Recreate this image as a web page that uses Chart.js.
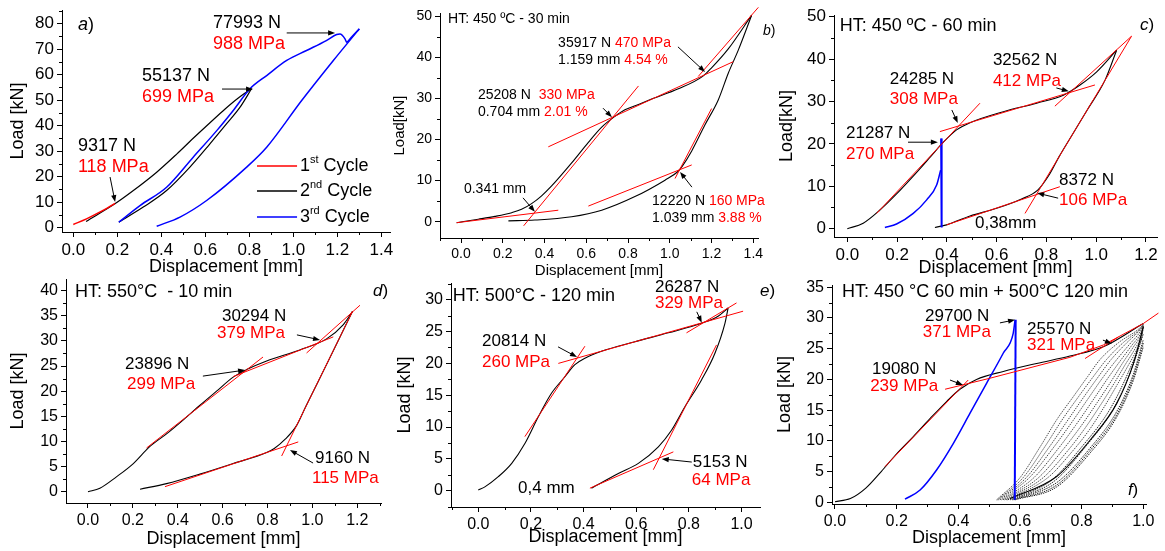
<!DOCTYPE html>
<html lang="en">
<head>
<meta charset="UTF-8">
<title>Load - displacement curves</title>
<script src="https://cdn.jsdelivr.net/npm/chart.js"></script>
<style>
  body { margin: 0; background: #fff; }
  #wrap { position: relative; width: 1165px; height: 551px; }
  #wrap canvas { position: absolute; left: 0; top: 0; }
</style>
</head>
<body>
<div id="wrap">
  <canvas id="pa" width="1165" height="551"></canvas>
  <canvas id="pb" width="1165" height="551"></canvas>
  <canvas id="pc" width="1165" height="551"></canvas>
  <canvas id="pd" width="1165" height="551"></canvas>
  <canvas id="pe" width="1165" height="551"></canvas>
  <canvas id="pf" width="1165" height="551"></canvas>
</div>
<script>
// ---- a) three cycles, [displacement mm, load kN] ----
const aCycle1       = [[0.00,1.2],[0.06,3.4],[0.12,6.0],[0.19,9.5]];
const aCycle2Load   = [[0.058,2.4],[0.189,9.3],[0.273,14.5],[0.379,21.7],[0.47,28.8],[0.545,35.0],[0.62,41.0],[0.69,46.5],[0.75,50.8],[0.81,54.4]];
const aCycle2Unload = [[0.81,54.4],[0.758,47.2],[0.697,40.7],[0.621,32.8],[0.53,23.7],[0.424,14.5],[0.318,8.0],[0.207,2.1]];
const aCycle3Load   = [[0.207,2.1],[0.303,8.6],[0.424,15.8],[0.545,27.6],[0.652,38.0],[0.727,45.9],[0.803,54.4],[0.879,59.6],[0.97,65.5],[1.06,69.4],[1.15,73.3],[1.197,75.7],[1.212,75.9],[1.235,74.0],[1.242,72.7],[1.265,74.7],[1.30,77.9]];
const aCycle3Unload = [[1.30,77.9],[1.182,65.5],[1.038,49.8],[0.879,31.5],[0.788,23.7],[0.606,10.6],[0.485,4.1],[0.379,0.5]];

// ---- b) HT 450 C 30 min ----
const bLoad   = [[-0.021,-0.24],[0.083,0.6],[0.163,1.3],[0.243,2.2],[0.29,3.0],[0.338,4.4],[0.386,6.3],[0.434,8.7],[0.53,14.3],[0.61,19.3],[0.674,23.0],[0.737,25.6],[0.785,27.2],[0.85,28.5],[0.913,29.8],[1.041,32.3],[1.159,35.4],[1.2,37.4],[1.28,42.0],[1.392,50.2]];
const bUnload = [[1.392,50.2],[1.328,41.7],[1.28,36.1],[1.232,29.6],[1.168,23.5],[1.105,17.2],[1.06,13.5],[1.039,12.2],[0.977,10.1],[0.833,6.1],[0.674,2.8],[0.53,1.2],[0.354,0.4],[0.227,0.2]];
const bFitLow     = [[-0.021,-0.24],[0.466,2.8]];
const bFitSteep   = [[0.30,-1.0],[0.85,33.0]];
const bFitMid     = [[0.418,18.2],[1.304,38.9]];
const bFitTop     = [[1.136,35.3],[1.424,52.1]];
const bFitUnlLow  = [[0.61,3.8],[1.105,13.8]];
const bFitUnlHigh = [[1.025,10.5],[1.2,27.5]];

// ---- c) HT 450 C 60 min ----
const cLoad   = [[0,0],[0.064,1.3],[0.131,4.4],[0.198,8.2],[0.265,12.4],[0.332,16.8],[0.386,20.4],[0.439,23.3],[0.493,25.0],[0.627,27.6],[0.761,29.6],[0.868,31.5],[0.935,33.9],[1.002,37.0],[1.082,42.1]];
const cUnload = [[1.082,42.1],[1.036,35.1],[0.964,28.0],[0.899,21.7],[0.851,17.0],[0.81,12.6],[0.765,9.1],[0.7,7.0],[0.6,4.8],[0.493,3.0],[0.399,0.9],[0.352,0.3]];
const cBlue     = [[0.151,0.3],[0.198,1.1],[0.265,3.6],[0.319,6.8],[0.359,10.3],[0.375,13.8]];
const cBlueDrop = [[0.377,21.3],[0.379,0.3]];
const cFitSteep = [[0.118,3.6],[0.533,29.6]];
const cFitMid   = [[0.372,22.9],[0.995,33.9]];
const cFitTop   = [[0.834,28.9],[1.142,45.4]];
const cFitUnl   = [[0.714,3.6],[1.142,45.4]];
const cFitLow   = [[0.399,0.9],[0.854,9.9]];

// ---- d) HT 550 C 10 min ----
const dLoad   = [[0,0],[0.053,0.7],[0.128,3.0],[0.202,5.6],[0.276,9.0],[0.35,11.5],[0.425,14.3],[0.499,17.2],[0.573,20.0],[0.647,22.8],[0.707,24.3],[0.796,26.0],[0.944,28.2],[1.063,30.4],[1.137,33.2],[1.179,35.9]];
const dUnload = [[1.179,35.9],[1.123,30.8],[1.073,26.2],[1.022,21.6],[0.97,16.9],[0.93,13.2],[0.88,10.5],[0.83,8.6],[0.796,7.8],[0.647,5.6],[0.499,3.5],[0.35,1.6],[0.232,0.5]];
const dFitSteep = [[0.261,8.7],[0.78,26.8]];
const dFitMid   = [[0.647,22.9],[1.093,30.8]];
const dFitTop   = [[0.974,27.6],[1.212,37.1]];
const dFitUnl   = [[0.863,7.1],[1.179,35.9]];
const dFitLow   = [[0.343,1.0],[0.937,9.9]];

// ---- e) HT 500 C 120 min ----
const eLoad   = [[0,0.1],[0.025,0.6],[0.076,2.2],[0.127,4.3],[0.177,7.4],[0.228,11.6],[0.278,15.3],[0.329,17.9],[0.367,19.8],[0.405,20.8],[0.468,21.9],[0.595,23.4],[0.722,24.8],[0.848,26.3],[0.911,27.4],[0.949,28.7]];
const eUnload = [[0.949,28.7],[0.937,26.3],[0.899,21.6],[0.848,17.4],[0.785,13.2],[0.734,9.5],[0.684,6.9],[0.608,4.3],[0.532,2.7],[0.43,0.4]];
const eFitSteep = [[0.177,8.5],[0.405,22.7]];
const eFitMid   = [[0.304,20.0],[1.006,28.2]];
const eFitTop   = [[0.791,24.8],[0.981,29.5]];
const eFitUnl   = [[0.665,3.3],[0.905,22.9]];
const eFitLow   = [[0.424,0.4],[0.741,6.1]];

// ---- f) HT 450 C 60 min + 500 C 120 min ----
const fLoad     = [[0,0.1],[0.05,0.6],[0.1,2.3],[0.15,5.0],[0.2,7.9],[0.254,10.7],[0.308,13.6],[0.362,16.4],[0.405,18.4],[0.459,20.0],[0.546,21.3],[0.654,22.6],[0.762,23.8],[0.87,25.3],[1.0,29.1]];
const fBlue     = [[0.227,0.5],[0.276,2.0],[0.33,5.3],[0.384,9.6],[0.438,14.5],[0.492,19.4],[0.546,24.3],[0.578,27.5],[0.584,29.7]];
const fBlueDrop = [[0.586,29.7],[0.583,0.4]];
const fFitSteep = [[0.162,5.8],[0.432,19.9]];
const fFitMid   = [[0.357,18.4],[0.503,20.2],[0.762,23.6],[0.87,25.6],[1.0,29.1],[1.049,30.8]];
const fFitTop   = [[0.811,23.4],[0.919,26.9]];
const fCycSolid = [[0.568,0.6],[0.719,4.2],[0.827,10.1],[0.914,16.1],[0.968,22.6],[1.0,28.6]];
const fCyc1  = [[0.524,0.4],[0.6,4.0],[0.665,9.0],[0.72,13.5],[0.773,17.2],[0.82,20.5],[0.859,23.2],[0.92,26.0],[0.98,28.0],[1.0,28.9]];
const fCyc2  = [[0.527,0.4],[0.61,4.0],[0.68,9.0],[0.735,13.3],[0.79,17.2],[0.84,20.6],[0.88,23.2],[0.935,26.0],[0.985,28.0],[1.0,28.9]];
const fCyc3  = [[0.53,0.4],[0.62,4.0],[0.695,9.0],[0.75,13.0],[0.805,17.0],[0.855,20.5],[0.895,23.2],[0.945,25.9],[0.988,28.0],[1.0,28.9]];
const fCyc4  = [[0.535,0.4],[0.63,4.0],[0.71,9.0],[0.765,12.8],[0.82,16.8],[0.87,20.4],[0.91,23.0],[0.955,25.7],[0.99,27.8],[1.0,28.8]];
const fCyc5  = [[0.54,0.4],[0.645,4.0],[0.725,8.8],[0.78,12.5],[0.835,16.5],[0.885,20.2],[0.922,22.8],[0.962,25.5],[0.992,27.6],[1.0,28.8]];
const fCyc6  = [[0.545,0.4],[0.66,4.0],[0.74,8.6],[0.795,12.2],[0.85,16.2],[0.897,19.8],[0.932,22.6],[0.968,25.3],[0.994,27.5],[1.0,28.7]];
const fCyc7  = [[0.55,0.4],[0.675,4.0],[0.755,8.4],[0.81,12.0],[0.862,15.9],[0.907,19.5],[0.94,22.3],[0.973,25.0],[0.995,27.3],[1.0,28.7]];
const fCyc8  = [[0.555,0.4],[0.69,4.0],[0.77,8.3],[0.825,11.8],[0.874,15.6],[0.916,19.2],[0.948,22.0],[0.978,24.8],[0.996,27.1],[1.0,28.6]];
const fCyc9  = [[0.56,0.4],[0.70,3.5],[0.80,9.0],[0.89,15.0],[0.95,21.0],[0.99,26.2],[1.0,28.5]];
const fCyc10 = [[0.568,0.4],[0.71,3.4],[0.815,9.2],[0.905,15.4],[0.96,21.4],[1.0,27.4]];
const fCyc11 = [[0.575,0.4],[0.719,3.2],[0.827,8.8],[0.914,14.8],[0.968,20.9],[1.0,26.5]];
const fCyc12 = [[0.58,0.4],[0.719,2.8],[0.827,8.4],[0.914,14.3],[0.968,20.4],[1.0,25.9]];
const fCyc13 = [[0.584,0.4],[0.719,2.5],[0.827,8.0],[0.914,13.9],[0.968,19.9],[1.0,25.3]];

const FONT = '"Liberation Sans", Arial, Helvetica, sans-serif';
const RED = '#ff0000', BLK = '#000000', BLUE = '#0000ff';

function xy(a) { return a.map(p => ({x: p[0], y: p[1]})); }
function line(a, color, w, order, extra) {
  return Object.assign({data: xy(a), showLine: true, borderColor: color, backgroundColor: color,
    borderWidth: w, pointRadius: 0, pointHoverRadius: 0, cubicInterpolationMode: 'monotone',
    clip: false, order: order}, extra || {});
}
const straight = {cubicInterpolationMode: 'default', tension: 0};
const fit = a => line(a, RED, 1, 0, straight);
const dotted = (a, c) => line(a, c, 1, 3, {borderDash: [1.4, 1]});

// text, arrows, minor ticks, legend keys drawn on top using the chart's scales
function decor(d) {
  return {
    id: 'decor',
    afterDraw(chart) {
      const ctx = chart.ctx, ca = chart.chartArea;
      const xs = chart.scales.x, ys = chart.scales.y;
      const X = v => xs.getPixelForValue(v), Y = v => ys.getPixelForValue(v);
      ctx.save();
      ctx.strokeStyle = BLK; ctx.fillStyle = BLK; ctx.lineWidth = 1;

      ctx.beginPath();
      for (let k = Math.ceil(xs.min / d.minorX - 1e-6); k * d.minorX <= xs.max + 1e-9; k++) {
        if (k % 2 === 0) continue;
        const px = Math.round(X(k * d.minorX)) + 0.5;
        ctx.moveTo(px, ca.bottom); ctx.lineTo(px, ca.bottom + 3);
      }
      for (let k = Math.ceil(ys.min / d.minorY - 1e-6); k * d.minorY <= ys.max + 1e-9; k++) {
        if (k % 2 === 0) continue;
        const py = Math.round(Y(k * d.minorY)) + 0.5;
        ctx.moveTo(ca.left, py); ctx.lineTo(ca.left - 3, py);
      }
      ctx.stroke();

      (d.keys || []).forEach(([x1, x2, y, c]) => {
        ctx.strokeStyle = c; ctx.lineWidth = 1.5;
        ctx.beginPath(); ctx.moveTo(X(x1), Y(y)); ctx.lineTo(X(x2), Y(y)); ctx.stroke();
      });

      ctx.strokeStyle = BLK; ctx.fillStyle = BLK; ctx.lineWidth = 1;
      (d.arrows || []).forEach(([x1, y1, x2, y2]) => {
        const ax = X(x1), ay = Y(y1), bx = X(x2), by = Y(y2);
        const a = Math.atan2(by - ay, bx - ax), L = 7, w = 2.6;
        const c = Math.cos(a), s = Math.sin(a);
        ctx.beginPath(); ctx.moveTo(ax, ay); ctx.lineTo(bx - L * 0.7 * c, by - L * 0.7 * s); ctx.stroke();
        ctx.beginPath(); ctx.moveTo(bx, by);
        ctx.lineTo(bx - L * c + w * s, by - L * s - w * c);
        ctx.lineTo(bx - L * c - w * s, by - L * s + w * c);
        ctx.closePath(); ctx.fill();
      });

      ctx.textBaseline = 'middle'; ctx.textAlign = 'left';
      (d.notes || []).forEach(n => {
        let x = X(n.x); const y = Y(n.y);
        n.parts.forEach(([t, c, f]) => {
          const sup = f && f.includes('s');
          const size = sup ? Math.round(n.size * 0.6) : n.size;
          ctx.font = (f && f.includes('i') ? 'italic ' : '') + size + 'px ' + FONT;
          ctx.fillStyle = c || BLK;
          ctx.fillText(t, x, sup ? y - n.size * 0.32 : y);
          x += ctx.measureText(t).width;
        });
      });
      ctx.restore();
    }
  };
}

function panel(id, p, datasets, d) {
  const tickFont = {family: FONT, size: p.tick};
  const titleFont = {family: FONT, size: p.title};
  const lh = p.title * 1.2;
  const padL = Math.round(p.yTitleX - lh / 2);
  const W = p.L - padL;
  const H = Math.round(p.xTitleY + lh / 2 - p.B);
  const grid = {drawOnChartArea: false, drawTicks: true, tickLength: 5, color: BLK, lineWidth: 1};
  new Chart(document.getElementById(id), {
    type: 'scatter',
    data: {datasets},
    options: {
      responsive: false, animation: false, events: [],
      layout: {autoPadding: false, padding: {left: padL, top: p.T, right: 1165 - p.R, bottom: 551 - p.B - H}},
      plugins: {legend: {display: false}, tooltip: {enabled: false}},
      scales: {
        x: {
          type: 'linear', position: 'bottom', min: p.xmin, max: p.xmax,
          ticks: {stepSize: p.xstep, includeBounds: false, autoSkip: false, maxRotation: 0, color: BLK,
            font: tickFont, padding: 3, callback: v => Number(v).toFixed(1)},
          grid, border: {color: BLK, width: 1},
          title: {display: true, text: 'Displacement [mm]', color: BLK, font: titleFont, padding: 0},
          afterFit: s => { s.height = H; s.paddingLeft = 0; s.paddingRight = 0; }
        },
        y: {
          type: 'linear', position: 'left', min: p.ymin, max: p.ymax,
          ticks: {stepSize: p.ystep, includeBounds: false, autoSkip: false, color: BLK,
            font: tickFont, padding: 3, callback: v => String(Math.round(v))},
          grid, border: {color: BLK, width: 1},
          title: {display: true, text: p.yTitle, color: BLK, font: titleFont, padding: 0},
          afterFit: s => { s.width = W; s.paddingTop = 0; s.paddingBottom = 0; }
        }
      }
    },
    plugins: [decor(d)]
  });
}

const note = (x, y, size, ...parts) => ({x, y, size, parts});

// a)
panel('pa',
  {L: 62, T: 10, R: 390, B: 232, xmin: -0.0514, xmax: 1.4395, xstep: 0.2, ymin: -1.76, ymax: 85.3, ystep: 10,
   tick: 17, title: 18, yTitle: 'Load [kN]', yTitleX: 18, xTitleY: 267},
  [line(aCycle1, RED, 1.5, 0),
   line(aCycle3Load, BLUE, 1.5, 1), line(aCycle3Unload, BLUE, 1.5, 1),
   line(aCycle2Load, BLK, 1.2, 2), line(aCycle2Unload, BLK, 1.2, 2)],
  {minorX: 0.1, minorY: 5,
   keys: [[0.835, 1.017, 24.1, RED], [0.835, 1.017, 14.3, BLK], [0.835, 1.017, 4.1, BLUE]],
   arrows: [[0.97, 76.3, 1.19, 76.3], [0.676, 54.3, 0.817, 54.3], [0.167, 19.8, 0.19, 10.0]],
   notes: [
     note(0.021, 79.4, 18, ['a', BLK, 'i'], [')', BLK]),
     note(0.635, 80.2, 18, ['77993 N', BLK]), note(0.635, 72.0, 18, ['988 MPa', RED]),
     note(0.312, 59.4, 18, ['55137 N', BLK]), note(0.312, 51.2, 18, ['699 MPa', RED]),
     note(0.021, 32.0, 18, ['9317 N', BLK]), note(0.021, 23.7, 18, ['118 MPa', RED]),
     note(1.03, 24.1, 18, ['1', BLK], ['st', BLK, 's'], [' Cycle', BLK]),
     note(1.03, 14.3, 18, ['2', BLK], ['nd', BLK, 's'], [' Cycle', BLK]),
     note(1.03, 4.1, 18, ['3', BLK], ['rd', BLK, 's'], [' Cycle', BLK])
   ]});

// b)
panel('pb',
  {L: 440, T: 13, R: 758, B: 238, xmin: -0.1006, xmax: 1.4224, xstep: 0.2, ymin: -3.96, ymax: 50.73, ystep: 10,
   tick: 14, title: 15, yTitle: 'Load[kN]', yTitleX: 400, xTitleY: 271},
  [fit(bFitLow), fit(bFitSteep), fit(bFitMid), fit(bFitTop), fit(bFitUnlLow), fit(bFitUnlHigh),
   line(bLoad, BLK, 1.1, 2), line(bUnload, BLK, 1.1, 2)],
  {minorX: 0.1, minorY: 5,
   arrows: [[1.039, 42.5, 1.169, 36.4], [0.68, 27.6, 0.723, 25.4], [0.297, 5.8, 0.354, 2.4], [1.106, 8.4, 1.049, 12.1]],
   notes: [
     note(-0.062, 49.3, 14, ['HT: 450 ºC - 30 min', BLK]),
     note(1.446, 46.4, 14, ['b', BLK, 'i'], [')', BLK]),
     note(0.465, 43.4, 14, ['35917 N ', BLK], ['470 MPa', RED]),
     note(0.465, 39.3, 14, ['1.159 mm ', BLK], ['4.54 %', RED]),
     note(0.081, 30.8, 14, ['25208 N  ', BLK], ['330 MPa', RED]),
     note(0.081, 26.7, 14, ['0.704 mm ', BLK], ['2.01 %', RED]),
     note(0.014, 7.9, 14, ['0.341 mm', BLK]),
     note(0.915, 5.0, 14, ['12220 N ', BLK], ['160 MPa', RED]),
     note(0.915, 0.9, 14, ['1.039 mm ', BLK], ['3.88 %', RED])
   ]});

// c)
panel('pc',
  {L: 834, T: 15, R: 1157, B: 237, xmin: -0.0534, xmax: 1.2443, xstep: 0.2, ymin: -1.96, ymax: 50.4, ystep: 10,
   tick: 17, title: 18, yTitle: 'Load[kN]', yTitleX: 787, xTitleY: 268},
  [fit(cFitSteep), fit(cFitMid), fit(cFitTop), fit(cFitUnl), fit(cFitLow),
   line(cBlue, BLUE, 1.5, 1), line(cBlueDrop, BLUE, 2, 1, straight),
   line(cLoad, BLK, 1.1, 2), line(cUnload, BLK, 1.1, 2)],
  {minorX: 0.1, minorY: 5,
   arrows: [[0.84, 33.2, 0.89, 32.4], [0.42, 28.0, 0.444, 24.9], [0.244, 20.4, 0.364, 20.4], [0.847, 7.2, 0.763, 8.4]],
   notes: [
     note(-0.03, 47.8, 18, ['HT: 450 ºC - 60 min', BLK]),
     note(1.176, 48.0, 17, ['c', BLK, 'i'], [')', BLK]),
     note(0.585, 39.6, 17, ['32562 N', BLK]), note(0.585, 34.8, 17, ['412 MPa', RED]),
     note(0.171, 35.3, 17, ['24285 N', BLK]), note(0.171, 30.6, 17, ['308 MPa', RED]),
     note(-0.005, 22.6, 17, ['21287 N', BLK]), note(-0.005, 17.6, 17, ['270 MPa', RED]),
     note(0.851, 11.5, 17, ['8372 N', BLK]), note(0.851, 6.8, 17, ['106 MPa', RED]),
     note(0.513, 1.3, 17, ['0,38mm', BLK])
   ]});

// d)
panel('pd',
  {L: 66, T: 279, R: 381, B: 503, xmin: -0.098, xmax: 1.3057, xstep: 0.2, ymin: -2.25, ymax: 42.32, ystep: 5,
   tick: 16, title: 18, yTitle: 'Load [kN]', yTitleX: 18, xTitleY: 539},
  [fit(dFitSteep), fit(dFitMid), fit(dFitTop), fit(dFitUnl), fit(dFitLow),
   line(dLoad, BLK, 1.1, 2), line(dUnload, BLK, 1.1, 2)],
  {minorX: 0.1, minorY: 2.5,
   arrows: [[0.931, 31.2, 1.034, 30.2], [0.512, 23.0, 0.7, 24.2], [1.003, 5.7, 0.9, 8.3]],
   notes: [
     note(-0.058, 39.8, 18, ['HT: 550°C  - 10 min', BLK]),
     note(1.27, 39.9, 17, ['d', BLK, 'i'], [')', BLK]),
     note(0.597, 34.8, 17, ['30294 N', BLK]), note(0.575, 31.6, 17, ['379 MPa', RED]),
     note(0.165, 25.4, 17, ['23896 N', BLK]), note(0.174, 21.4, 17, ['299 MPa', RED]),
     note(1.012, 6.7, 17, ['9160 N', BLK]), note(0.998, 2.7, 17, ['115 MPa', RED])
   ]});

// e)
panel('pe',
  {L: 451, T: 283, R: 760, B: 507, xmin: -0.1037, xmax: 1.0702, xstep: 0.2, ymin: -2.56, ymax: 32.63, ystep: 5,
   tick: 16, title: 18, yTitle: 'Load [kN]', yTitleX: 405, xTitleY: 537},
  [fit(eFitSteep), fit(eFitMid), fit(eFitTop), fit(eFitUnl), fit(eFitLow),
   line(eLoad, BLK, 1.1, 2), line(eUnload, BLK, 1.1, 2)],
  {minorX: 0.1, minorY: 2.5,
   arrows: [[0.83, 28.1, 0.849, 26.4], [0.303, 22.6, 0.375, 21.0], [0.811, 4.5, 0.697, 5.0]],
   notes: [
     note(-0.097, 30.6, 18, ['HT: 500°C - 120 min', BLK]),
     note(1.07, 31.3, 17, ['e', BLK, 'i'], [')', BLK]),
     note(0.671, 32.0, 17, ['26287 N', BLK]), note(0.671, 29.5, 17, ['329 MPa', RED]),
     note(0.014, 23.4, 17, ['20814 N', BLK]), note(0.014, 20.2, 17, ['260 MPa', RED]),
     note(0.815, 4.4, 17, ['5153 N', BLK]), note(0.811, 1.7, 17, ['64 MPa', RED]),
     note(0.151, 0.4, 17, ['0,4 mm', BLK])
   ]});

// f)
const LIGHT = '#4a4a4a', DARK = '#1a1a1a';
panel('pf',
  {L: 832, T: 285, R: 1146, B: 504, xmin: -0.0097, xmax: 1.0087, xstep: 0.2, ymin: -0.28, ymax: 35.37, ystep: 5,
   tick: 16, title: 18, yTitle: 'Load [kN]', yTitleX: 785, xTitleY: 538},
  [fit(fFitSteep), fit(fFitMid), fit(fFitTop),
   line(fBlue, BLUE, 1.5, 1), line(fBlueDrop, BLUE, 2, 1, straight),
   line(fLoad, BLK, 1.1, 2), line(fCycSolid, BLK, 1.1, 2),
   dotted(fCyc1, LIGHT), dotted(fCyc2, LIGHT), dotted(fCyc3, LIGHT), dotted(fCyc4, LIGHT),
   dotted(fCyc5, LIGHT), dotted(fCyc6, LIGHT), dotted(fCyc7, LIGHT), dotted(fCyc8, LIGHT),
   dotted(fCyc9, DARK), dotted(fCyc10, DARK), dotted(fCyc11, DARK), dotted(fCyc12, DARK), dotted(fCyc13, DARK)],
  {minorX: 0.1, minorY: 2.5,
   arrows: [[0.535, 29.2, 0.584, 29.7], [0.869, 26.4, 0.898, 25.8], [0.373, 19.9, 0.415, 19.1]],
   notes: [
     note(0.023, 34.2, 18, ['HT: 450 °C 60 min + 500°C 120 min', BLK]),
     note(0.95, 2.0, 17, ['f', BLK, 'i'], [')', BLK]),
     note(0.292, 30.2, 17, ['29700 N', BLK]), note(0.285, 27.6, 17, ['371 MPa', RED]),
     note(0.623, 28.1, 17, ['25570 N', BLK]), note(0.623, 25.6, 17, ['321 MPa', RED]),
     note(0.12, 21.7, 17, ['19080 N', BLK]), note(0.114, 18.8, 17, ['239 MPa', RED])
   ]});
</script>
</body>
</html>
